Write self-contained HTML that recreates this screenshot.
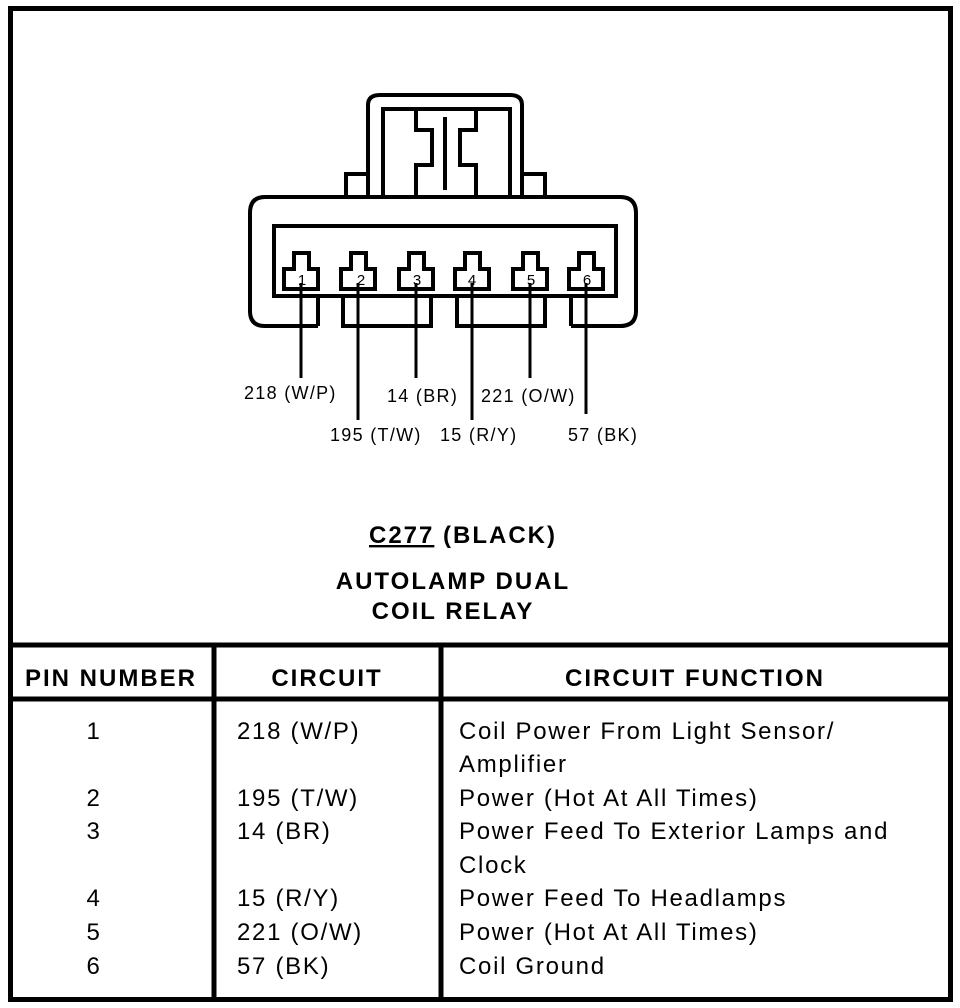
<!DOCTYPE html>
<html><head><style>
html,body{margin:0;padding:0;background:#fff;}
svg{display:block;}
text{font-family:"Liberation Sans",sans-serif;fill:#000;}
</style></head><body>
<svg width="960" height="1008" viewBox="0 0 960 1008" xmlns="http://www.w3.org/2000/svg">
<rect x="0" y="0" width="960" height="1008" fill="#fff"/>
<rect x="10.5" y="8.5" width="940" height="991" fill="none" stroke="#000" stroke-width="5"/>
<line x1="10" y1="645" x2="950" y2="645" stroke="#000" stroke-width="5"/>
<line x1="10" y1="699" x2="950" y2="699" stroke="#000" stroke-width="5"/>
<line x1="214" y1="645" x2="214" y2="1000" stroke="#000" stroke-width="5"/>
<line x1="441" y1="645" x2="441" y2="1000" stroke="#000" stroke-width="5"/>

<g fill="none" stroke="#000" stroke-width="4">
<path d="M368,197 V105 Q368,95 380,95 H510 Q522,95 522,105 V197"/>
<rect x="383" y="109" width="127" height="88"/>
<path d="M416,197 V165 H432 V130 H416 V109 M476,197 V165 H460 V130 H476 V109"/>
<line x1="445" y1="117" x2="445" y2="190"/>
<rect x="346" y="174" width="22" height="23"/>
<rect x="522" y="174" width="23" height="23"/>
<path d="M318,326 H265 Q250,326 250,311 V213 Q250,197 265,197 H620 Q636,197 636,213 V311 Q636,326 620,326 H571"/>
<rect x="274" y="226" width="342" height="70"/>
<path d="M318,296 V326 M343,296 V326 H431 V296 M457,296 V326 H545 V296 M571,296 V326"/>
</g>

<g fill="#fff" stroke="#000" stroke-width="4">
<path d="M294,253 H309 V269 H318 V289 H284 V269 H294 Z"/>
<path d="M351,253 H366 V269 H375 V289 H341 V269 H351 Z"/>
<path d="M409,253 H424 V269 H433 V289 H399 V269 H409 Z"/>
<path d="M465,253 H480 V269 H489 V289 H455 V269 H465 Z"/>
<path d="M523,253 H538 V269 H547 V289 H513 V269 H523 Z"/>
<path d="M579,253 H594 V269 H603 V289 H569 V269 H579 Z"/>
</g>
<g stroke="#000" stroke-width="3">
<line x1="301" y1="283" x2="301" y2="378"/>
<line x1="358" y1="283" x2="358" y2="420"/>
<line x1="416" y1="283" x2="416" y2="378"/>
<line x1="472" y1="283" x2="472" y2="420"/>
<line x1="530" y1="283" x2="530" y2="378"/>
<line x1="586" y1="283" x2="586" y2="414"/>
</g>
<g font-size="15" text-anchor="middle">
<text x="302" y="285">1</text><text x="361" y="285">2</text><text x="417" y="285">3</text>
<text x="472" y="285">4</text><text x="531" y="285">5</text><text x="587" y="285">6</text>
</g>
<g font-size="18" style="letter-spacing:1.3px">
<text x="244" y="399">218 (W/P)</text>
<text x="387" y="402">14 (BR)</text>
<text x="481" y="402">221 (O/W)</text>
<text x="330" y="441">195 (T/W)</text>
<text x="440" y="441">15 (R/Y)</text>
<text x="568" y="441">57 (BK)</text>
</g>
<g font-size="24" font-weight="bold" text-anchor="middle" style="letter-spacing:2px">
<text x="463" y="543"><tspan text-decoration="underline">C277</tspan> (BLACK)</text>
<text x="453" y="589">AUTOLAMP DUAL</text>
<text x="453" y="619">COIL RELAY</text>
<text x="111" y="686">PIN NUMBER</text>
<text x="327" y="686">CIRCUIT</text>
<text x="695" y="686">CIRCUIT FUNCTION</text>
</g>
<g font-size="24" style="letter-spacing:1.7px">
<text x="94" y="739" text-anchor="middle">1</text>
<text x="94" y="806" text-anchor="middle">2</text>
<text x="94" y="839" text-anchor="middle">3</text>
<text x="94" y="906" text-anchor="middle">4</text>
<text x="94" y="940" text-anchor="middle">5</text>
<text x="94" y="974" text-anchor="middle">6</text>
<text x="237" y="739">218 (W/P)</text>
<text x="237" y="806">195 (T/W)</text>
<text x="237" y="839">14 (BR)</text>
<text x="237" y="906">15 (R/Y)</text>
<text x="237" y="940">221 (O/W)</text>
<text x="237" y="974">57 (BK)</text>
<text x="459" y="739">Coil Power From Light Sensor/</text>
<text x="459" y="772">Amplifier</text>
<text x="459" y="806">Power (Hot At All Times)</text>
<text x="459" y="839">Power Feed To Exterior Lamps and</text>
<text x="459" y="873">Clock</text>
<text x="459" y="906">Power Feed To Headlamps</text>
<text x="459" y="940">Power (Hot At All Times)</text>
<text x="459" y="974">Coil Ground</text>
</g>
</svg>
</body></html>
